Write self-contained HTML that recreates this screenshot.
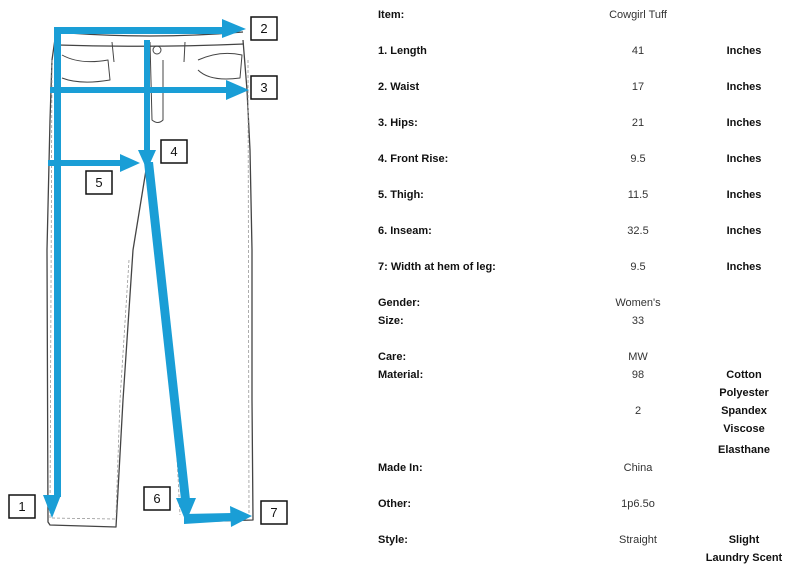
<!DOCTYPE html>
<html><head><meta charset="utf-8"><style>
html,body{margin:0;padding:0;background:#fff;}
svg{display:block;}
text{font-family:"Liberation Sans",sans-serif;font-size:11px;fill:#111;}
.b{font-weight:bold;}
.m{text-anchor:middle;fill:#333;}
.r{text-anchor:middle;font-weight:bold;}
.n{text-anchor:middle;font-size:13px;}
</style></head><body>
<svg width="793" height="566" viewBox="0 0 793 566" xmlns="http://www.w3.org/2000/svg">
<g fill="none" stroke="#444" stroke-width="1.3" stroke-linejoin="round">
<path d="M56 32 L52 60 L50 120 L47 250 L48 522 L50 525 L116 527 L123 400 L133 250 L146 170 L152 170 L162 260 L178 400 L185 522 L253 520 L252 400 L252 250 L250 150 L247 90 L243 40"/>
<path d="M56 32 Q150 40 243 32"/>
<path d="M58 45 Q150 48 244 44"/>
<path d="M62 55 Q80 65 108 60 L110 80 Q80 85 62 78" stroke-width="1"/>
<path d="M198 60 Q220 50 242 55 L240 78 Q210 82 198 70" stroke-width="1"/>
<path d="M150 42 L152 120 Q158 125 163 120 L163 60" stroke-width="1"/>
<circle cx="157" cy="50" r="4" stroke-width="1"/>
<path d="M112 42 L114 62 M185 42 L184 62" stroke-width="1"/>
</g>
<g fill="none" stroke="#999" stroke-width="0.8" stroke-dasharray="3,2">
<path d="M52 60 L50 518 L115 519"/>
<path d="M248 60 L249 515 L186 517"/>
<path d="M129 260 L120 400 L116 515"/>
<path d="M160 260 L174 400 L180 515"/>
</g>
<g fill="#1a9ed6" stroke="none">
<rect x="54" y="27" width="170" height="7"/>
<polygon points="222,19 246,29 222,38"/>
<rect x="54" y="27" width="7" height="470"/>
<polygon points="43,495 61,495 52,518"/>
<rect x="50" y="87" width="180" height="6"/>
<polygon points="226,80 249,90 226,100"/>
<rect x="144" y="40" width="6" height="115"/>
<polygon points="138,150 156,150 147,170"/>
<rect x="48" y="160" width="76" height="6"/>
<polygon points="120,154 140,163 120,172"/>
<polygon points="144,162 153,162 190,500 181,500"/>
<polygon points="176,498 196,498 186,522"/>
<polygon points="184,514 232,513 232,521 184,524"/>
<polygon points="230,506 252,516 231,527"/>
</g>
<g fill="#fff" stroke="#111" stroke-width="1.5">
<rect x="9" y="495" width="26" height="23"/>
<rect x="251" y="17" width="26" height="23"/>
<rect x="251" y="76" width="26" height="23"/>
<rect x="161" y="140" width="26" height="23"/>
<rect x="86" y="171" width="26" height="23"/>
<rect x="144" y="487" width="26" height="23"/>
<rect x="261" y="501" width="26" height="23"/>
</g>
<text class="n" x="22" y="511">1</text>
<text class="n" x="264" y="33">2</text>
<text class="n" x="264" y="92">3</text>
<text class="n" x="174" y="156">4</text>
<text class="n" x="99" y="187">5</text>
<text class="n" x="157" y="503">6</text>
<text class="n" x="274" y="517">7</text>
<g>
<text class="b" x="378" y="18">Item:</text><text class="m" x="638" y="18">Cowgirl Tuff</text>
<text class="b" x="378" y="54">1. Length</text><text class="m" x="638" y="54">41</text><text class="r" x="744" y="54">Inches</text>
<text class="b" x="378" y="90">2. Waist</text><text class="m" x="638" y="90">17</text><text class="r" x="744" y="90">Inches</text>
<text class="b" x="378" y="126">3. Hips:</text><text class="m" x="638" y="126">21</text><text class="r" x="744" y="126">Inches</text>
<text class="b" x="378" y="162">4. Front Rise:</text><text class="m" x="638" y="162">9.5</text><text class="r" x="744" y="162">Inches</text>
<text class="b" x="378" y="198">5. Thigh:</text><text class="m" x="638" y="198">11.5</text><text class="r" x="744" y="198">Inches</text>
<text class="b" x="378" y="234">6. Inseam:</text><text class="m" x="638" y="234">32.5</text><text class="r" x="744" y="234">Inches</text>
<text class="b" x="378" y="270">7: Width at hem of leg:</text><text class="m" x="638" y="270">9.5</text><text class="r" x="744" y="270">Inches</text>
<text class="b" x="378" y="306">Gender:</text><text class="m" x="638" y="306">Women's</text>
<text class="b" x="378" y="324">Size:</text><text class="m" x="638" y="324">33</text>
<text class="b" x="378" y="360">Care:</text><text class="m" x="638" y="360">MW</text>
<text class="b" x="378" y="378">Material:</text><text class="m" x="638" y="378">98</text><text class="r" x="744" y="378">Cotton</text>
<text class="r" x="744" y="396">Polyester</text>
<text class="m" x="638" y="414">2</text><text class="r" x="744" y="414">Spandex</text>
<text class="r" x="744" y="432">Viscose</text>
<text class="r" x="744" y="453">Elasthane</text>
<text class="b" x="378" y="471">Made In:</text><text class="m" x="638" y="471">China</text>
<text class="b" x="378" y="507">Other:</text><text class="m" x="638" y="507">1p6.5o</text>
<text class="b" x="378" y="543">Style:</text><text class="m" x="638" y="543">Straight</text><text class="r" x="744" y="543">Slight</text>
<text class="r" x="744" y="561">Laundry Scent</text>
</g>
</svg>
</body></html>
